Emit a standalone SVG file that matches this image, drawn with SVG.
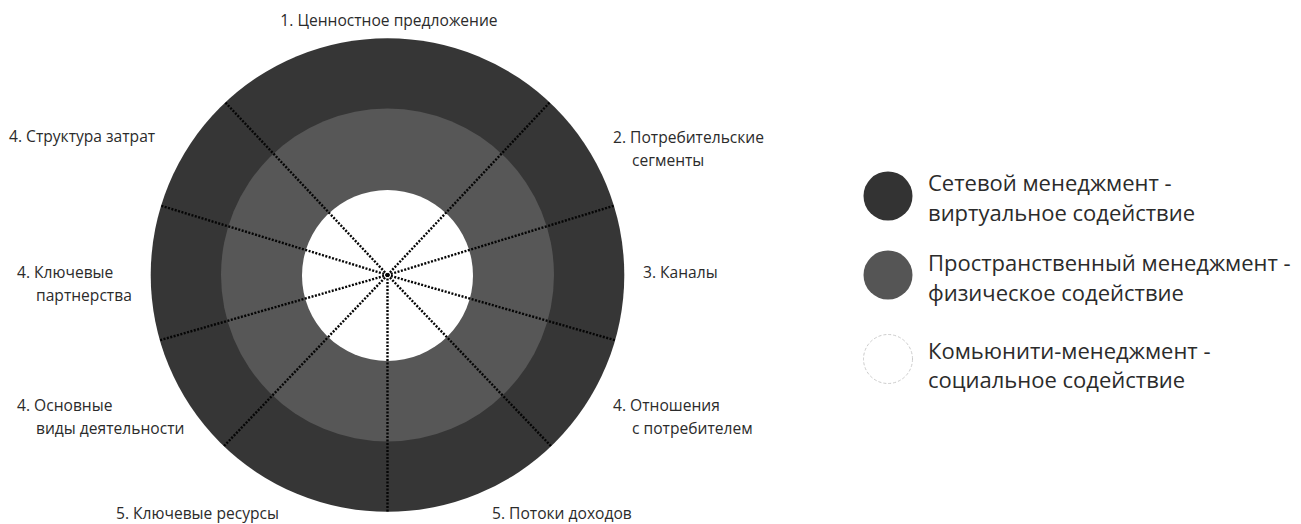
<svg xmlns="http://www.w3.org/2000/svg" width="1301" height="524" viewBox="0 0 1301 524">
<style>
.lbl{font-family:"Open Sans","Noto Sans","DejaVu Sans",sans-serif;font-size:15.6px;fill:#2b2b2b}
.leg{font-family:"Open Sans","Noto Sans","DejaVu Sans",sans-serif;font-size:22px;fill:#2b2b2b}
.ray{stroke:#050505;stroke-width:2.4;stroke-dasharray:2 1.5;fill:none}
</style>
<rect width="1301" height="524" fill="#ffffff"/>
<g id="rings">
<circle id="outer" cx="387.5" cy="275" r="236.8" fill="#363636"/>
<circle id="middle" cx="387.5" cy="275" r="166.5" fill="#575757"/>
<circle id="inner" cx="387.5" cy="275.5" r="85.5" fill="#ffffff"/>
</g>
<g id="connectors">
<line class="ray" x1="387.5" y1="275" x2="549.7" y2="102.4"/>
<line class="ray" x1="387.5" y1="275" x2="614.1" y2="205.7"/>
<line class="ray" x1="387.5" y1="275" x2="615.3" y2="340.3"/>
<line class="ray" x1="387.5" y1="275" x2="551.2" y2="446.3"/>
<line class="ray" x1="387.5" y1="275" x2="387.5" y2="511.5"/>
<line class="ray" x1="387.5" y1="275" x2="223.8" y2="446.3"/>
<line class="ray" x1="387.5" y1="275" x2="159.7" y2="340.3"/>
<line class="ray" x1="387.5" y1="275" x2="160.9" y2="205.7"/>
<line class="ray" x1="387.5" y1="275" x2="225.3" y2="102.4"/>
</g>
<g id="labels">
<g id="l1"><text class="lbl" x="389" y="26" text-anchor="middle">1. Ценностное предложение</text></g>
<g id="l2"><text class="lbl" x="613" y="143">2. Потребительские</text><text class="lbl" x="632" y="166">сегменты</text></g>
<g id="l3"><text class="lbl" x="643" y="278">3. Каналы</text></g>
<g id="l4r"><text class="lbl" x="613" y="411">4. Отношения</text><text class="lbl" x="632" y="434">с потребителем</text></g>
<g id="l5r"><text class="lbl" x="492" y="519">5. Потоки доходов</text></g>
<g id="l5l"><text class="lbl" x="116" y="519">5. Ключевые ресурсы</text></g>
<g id="l4a"><text class="lbl" x="17" y="411">4. Основные</text><text class="lbl" x="36" y="434">виды деятельности</text></g>
<g id="l4p"><text class="lbl" x="17" y="278">4. Ключевые</text><text class="lbl" x="36" y="301">партнерства</text></g>
<g id="l4c"><text class="lbl" x="9" y="142">4. Структура затрат</text></g>
</g>
<g id="legend">
<g id="leg1"><circle cx="888" cy="196" r="24.5" fill="#333333"/><text class="leg" x="928" y="191">Сетевой менеджмент -</text><text class="leg" x="928" y="221">виртуальное содействие</text></g>
<g id="leg2"><circle cx="888" cy="275" r="24.5" fill="#555555"/><text class="leg" x="928" y="271">Пространственный менеджмент -</text><text class="leg" x="928" y="301">физическое содействие</text></g>
<g id="leg3"><circle cx="888" cy="359" r="24.5" fill="#ffffff" stroke="#cccccc" stroke-width="1" stroke-dasharray="3 2"/><text class="leg" x="928" y="359">Комьюнити-менеджмент -</text><text class="leg" x="928" y="388">социальное содействие</text></g>
</g>
</svg>
